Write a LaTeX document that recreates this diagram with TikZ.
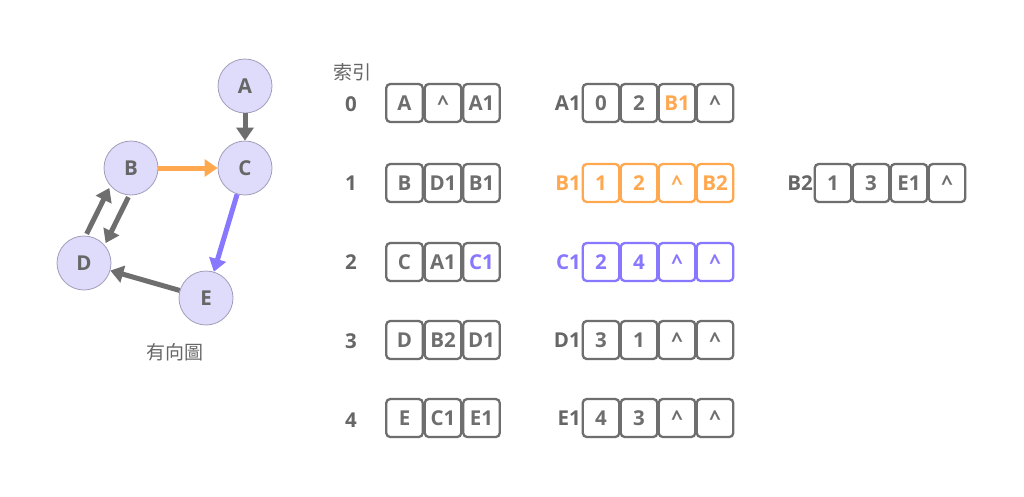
\documentclass[tikz,border=0pt]{standalone}
\usepackage{fontspec}
\setmainfont{Open Sans}
\newfontfamily\cjk{Noto Sans CJK TC}
\usetikzlibrary{arrows.meta,calc}
\definecolor{gline}{HTML}{6E6E6E}
\definecolor{gtext}{HTML}{666666}
\definecolor{orng}{HTML}{FFA84F}
\definecolor{purp}{HTML}{8877FF}
\definecolor{vfill}{HTML}{DEDBFB}
\definecolor{vdraw}{HTML}{A29EBA}
\tikzset{
  vert/.style={circle, fill=vfill, draw=vdraw, line width=0.8pt, minimum size=54pt, inner sep=0pt, text=gtext, font=\bfseries\fontsize{20.5}{20.5}\selectfont},
  garrow/.style={line width=5pt, draw=#1, -{Triangle[width=17pt,length=13pt]}},
  garrow/.default=gline,
  cell/.style={draw=#1, line width=2.3pt, rounded corners=4pt, minimum width=36.5pt, minimum height=38pt, inner sep=0pt, text=#1, font=\bfseries\fontsize{20.5}{20.5}\selectfont},
  cell/.default=gline,
  lbl/.style={text=#1, inner sep=0pt, font=\bfseries\fontsize{20.5}{20.5}\selectfont},
  lbl/.default=gtext,
  cjklbl/.style={text=gtext, inner sep=0pt, font=\cjk\fontsize{19}{19}\selectfont}
}
\begin{document}
\begin{tikzpicture}[x=1pt,y=-1pt]
\useasboundingbox[fill=white] (0,0) rectangle (1024,496);
% graph
\node[vert] (A) at (245,86) {A};
\node[vert] (B) at (131,168) {B};
\node[vert] (C) at (245,168) {C};
\node[vert] (D) at (84,263) {D};
\node[vert] (E) at (206,298) {E};
\node[cjklbl] (cap) at (175,352) {有向圖};
\draw[garrow] (A) -- (C);
\draw[garrow=orng] (B) -- (C);
\draw[garrow=purp] (C) -- (E);
\draw[garrow] (E) -- (D);
\draw[garrow, transform canvas={shift={(9.5,4.6)}}] (B) -- (D);
\draw[garrow, transform canvas={shift={(-9.5,-4.6)}}] (D) -- (B);
% table header
\node[cjklbl] (idx) at (352,72) {索引};
% index column
\node[lbl] (i0) at (351,104) {0};
\node[lbl] (i1) at (351,183) {1};
\node[lbl] (i2) at (351,262) {2};
\node[lbl] (i3) at (351,341) {3};
\node[lbl] (i4) at (351,420) {4};
% left cells
\node[cell] (l0a) at (404.5,103) {A};
\node[cell] (l0b) at (443,103) {\^{}};
\node[cell] (l0c) at (481.5,103) {A1};
\node[cell] (l1a) at (404.5,183) {B};
\node[cell] (l1b) at (443,183) {D1};
\node[cell] (l1c) at (481.5,183) {B1};
\node[cell] (l2a) at (404.5,262) {C};
\node[cell] (l2b) at (443,262) {A1};
\node[cell, text=purp] (l2c) at (481.5,262) {C1};
\node[cell] (l3a) at (404.5,340) {D};
\node[cell] (l3b) at (443,340) {B2};
\node[cell] (l3c) at (481.5,340) {D1};
\node[cell] (l4a) at (404.5,418) {E};
\node[cell] (l4b) at (443,418) {C1};
\node[cell] (l4c) at (481.5,418) {E1};
% right labels
\node[lbl, anchor=east] (nA1) at (581,103) {A1};
\node[lbl=orng, anchor=east] (nB1) at (581,183) {B1};
\node[lbl=purp, anchor=east] (nC1) at (581,262) {C1};
\node[lbl, anchor=east] (nD1) at (581,340) {D1};
\node[lbl, anchor=east] (nE1) at (581,418) {E1};
\node[lbl, anchor=east] (nB2) at (813,183) {B2};
% right cells
\node[cell] (a1a) at (601,103) {0};
\node[cell] (a1b) at (639,103) {2};
\node[cell, text=orng] (a1c) at (677,103) {B1};
\node[cell] (a1d) at (715,103) {\^{}};
\node[cell=orng] (b1a) at (601,183) {1};
\node[cell=orng] (b1b) at (639,183) {2};
\node[cell=orng] (b1c) at (677,183) {\^{}};
\node[cell=orng] (b1d) at (715,183) {B2};
\node[cell=purp] (c1a) at (601,262) {2};
\node[cell=purp] (c1b) at (639,262) {4};
\node[cell=purp] (c1c) at (677,262) {\^{}};
\node[cell=purp] (c1d) at (715,262) {\^{}};
\node[cell] (d1a) at (601,340) {3};
\node[cell] (d1b) at (639,340) {1};
\node[cell] (d1c) at (677,340) {\^{}};
\node[cell] (d1d) at (715,340) {\^{}};
\node[cell] (e1a) at (601,418) {4};
\node[cell] (e1b) at (639,418) {3};
\node[cell] (e1c) at (677,418) {\^{}};
\node[cell] (e1d) at (715,418) {\^{}};
\node[cell] (b2a) at (833,183) {1};
\node[cell] (b2b) at (871,183) {3};
\node[cell] (b2c) at (909,183) {E1};
\node[cell] (b2d) at (947,183) {\^{}};
\end{tikzpicture}
\end{document}
